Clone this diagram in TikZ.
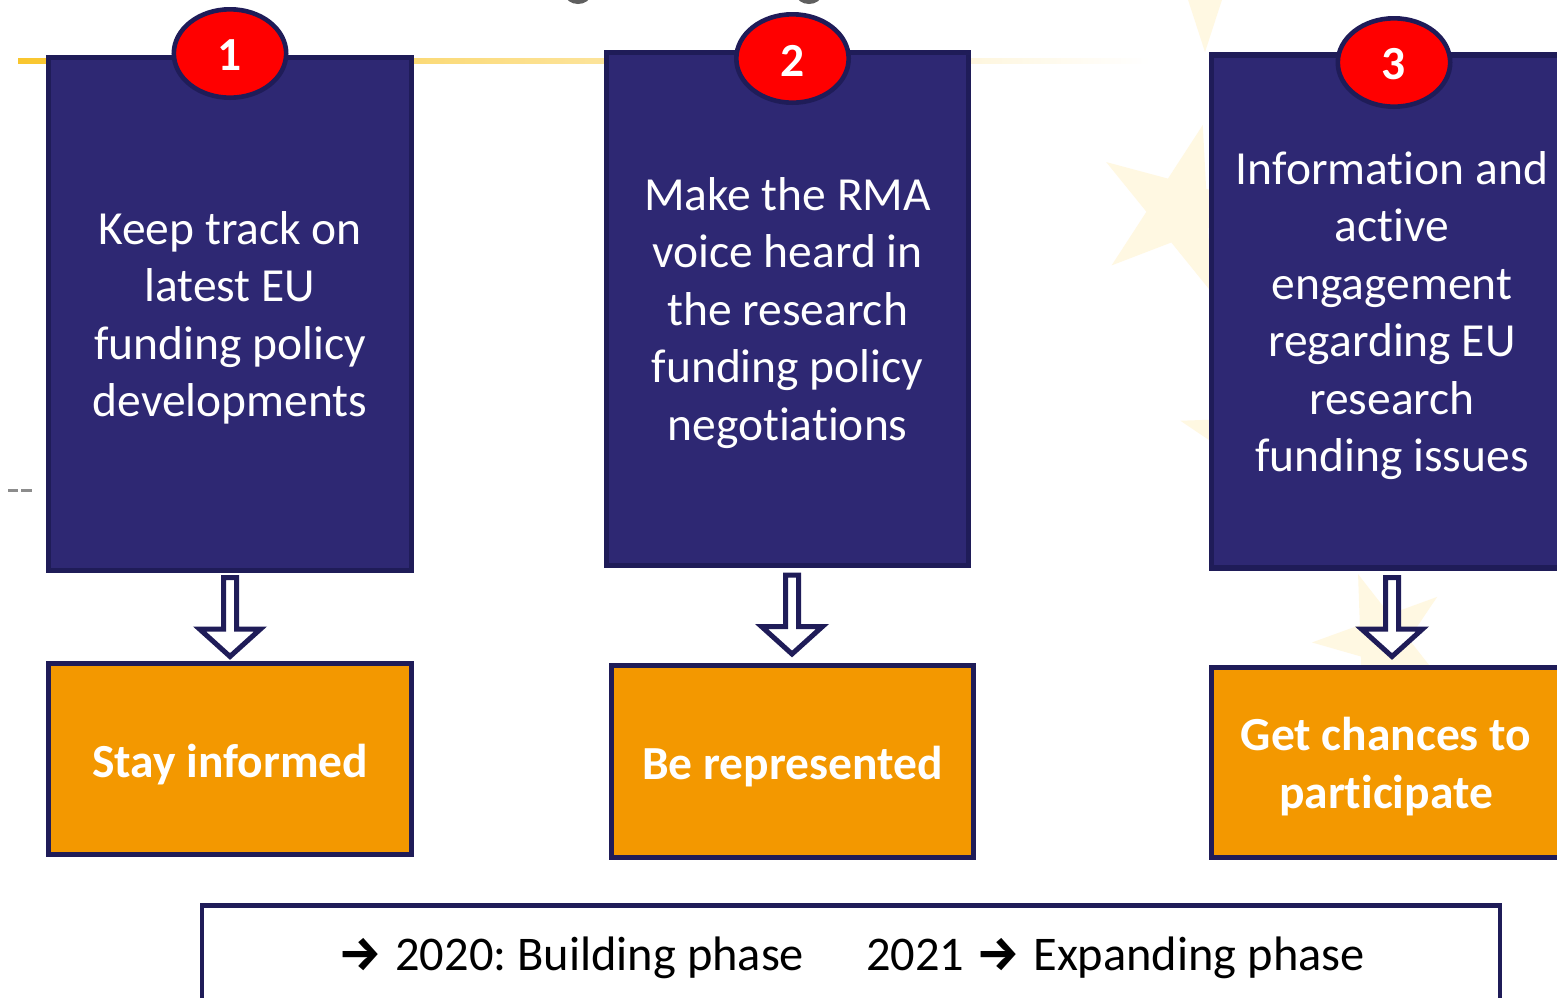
\documentclass[tikz,border=0pt]{standalone}
\usepackage{fontspec}
\usepackage{graphicx}
\setmainfont{Carlito}[Ligatures=CommonOff]
\newfontfamily\arrowfont{Fira Sans}
\newcommand\noti{t\kern0pt i}
\usetikzlibrary{shapes.geometric,calc}
\definecolor{navyfill}{RGB}{46,40,115}
\definecolor{navyline}{RGB}{31,28,88}
\definecolor{orangefill}{RGB}{243,152,0}
\definecolor{badgered}{RGB}{255,0,0}
\definecolor{gold}{RGB}{249,198,46}
\definecolor{starcol}{RGB}{255,248,226}
\definecolor{dashgrey}{RGB}{140,140,140}
\definecolor{titlegrey}{RGB}{95,95,95}
\newcommand\eustar[4]{\fill[starcol,shift={(#1,#2)}] (#4:#3) -- ({#4+36}:{0.382*#3}) -- ({#4+72}:#3) -- ({#4+108}:{0.382*#3}) -- ({#4+144}:#3) -- ({#4+180}:{0.382*#3}) -- ({#4+216}:#3) -- ({#4+252}:{0.382*#3}) -- ({#4+288}:#3) -- ({#4+324}:{0.382*#3}) -- cycle;}
\tikzset{
  bigtext/.style={font=\fontsize{23.75}{28.75}\selectfont},
  boldtext/.style={font=\bfseries\fontsize{23.75}{28.75}\selectfont},
  bluebox/.style={rectangle, draw=navyline, fill=navyfill, line width=2.6pt, inner sep=0pt, minimum width=181.5pt, minimum height=256.5pt},
  bluetext/.style={text=white, align=center, inner sep=0pt, bigtext},
  orangebox/.style={rectangle, draw=navyline, fill=orangefill, line width=2.6pt, inner sep=0pt, minimum width=181.5pt},
  orangetext/.style={text=white, align=center, inner sep=0pt, boldtext},
  badge/.style={ellipse, draw=navyline, fill=badgered, line width=2.3pt, minimum width=56.2pt, minimum height=44.2pt, inner sep=0pt},
  badgetext/.style={text=white, inner sep=0pt, boldtext},
  framebox/.style={rectangle, draw=navyline, fill=white, line width=2.2pt, inner sep=0pt, minimum width=649pt, minimum height=100pt},
  hollowarrow/.pic={\draw[line width=2.5pt, draw=navyline, fill=white, line join=miter] (-6.5,0) -- (-6.5,51.5) -- (-30.5,51.5) -- (0,79) -- (30.5,51.5) -- (6.5,51.5) -- (6.5,0) -- cycle;}
}
\begin{document}
\begin{tikzpicture}[x=0.5pt,y=-0.5pt]
\clip (0,0) rectangle (1557,997);
\fill[white] (0,0) rectangle (1557,997);
% faint background stars
\eustar{1180}{210}{88}{141}
\eustar{1205}{-30}{82}{90}
\eustar{1265}{445}{88}{196}
\eustar{1382}{640}{70}{-110}
% gold line
\shade[left color=gold, middle color=gold!35, right color=white] (18,58) rectangle (1150,63);
% title remnants at the top edge
\fill[titlegrey] (578,-6) ellipse [x radius=13, y radius=10];
\fill[titlegrey] (809,-6) ellipse [x radius=13, y radius=10];
% grey dashes
\draw[dashgrey, line width=1.5pt] (8,490.5) -- (18,490.5);
\draw[dashgrey, line width=1.5pt] (21,490.5) -- (32,490.5);
% blue boxes
\node[bluebox] (b1) at (230,314) {};
\node[bluebox, minimum width=181pt] (b2) at (787.5,309) {};
\node[bluebox] (b3) at (1393,311.5) {};
\node[bluetext] (t1) at ($(b1.center)+(0,4)$) {Keep track on\\latest EU\\funding policy\\developments};
\node[bluetext] (t2) at ($(b2.center)+(0,4)$) {Make the RMA\\voice heard in\\the research\\funding policy\\nego\noti ations};
\node[bluetext] (t3) at ($(b3.center)+(-1,4)$) {Information and\\active\\engagement\\regarding EU\\research\\funding issues};
% badges
\node[badge] (n1) at (230,53.5) {};
\node[badge] (n2) at (792.5,58.5) {};
\node[badge] (n3) at (1394,62.5) {};
\node[badgetext] (d1) at ($(n1.center)+(0,2)$) {1};
\node[badgetext] (d2) at ($(n2.center)+(0,2)$) {2};
\node[badgetext] (d3) at ($(n3.center)+(0,2)$) {3};
% orange boxes
\node[orangebox, minimum height=95.4pt] (o1) at (230,759) {};
\node[orangebox, minimum width=181pt, minimum height=95.9pt] (o2) at (792.5,761.5) {};
\node[orangebox, minimum height=94.9pt] (o3) at (1393,762.5) {};
\node[orangetext] (s1) at ($(o1.center)+(0,6)$) {Stay informed};
\node[orangetext] (s2) at ($(o2.center)+(0,5)$) {Be represented};
\node[orangetext] (s3) at ($(o3.center)+(-7,4)$) {Get chances to\\par\noti cipate};
% hollow arrows
\coordinate (a1) at (230,577.5);
\coordinate (a2) at (792,575);
\coordinate (a3) at (1392,577.5);
\pic at (a1) {hollowarrow};
\pic at (a2) {hollowarrow};
\pic at (a3) {hollowarrow};
% bottom frame
\node[framebox] (frame) at (851,1005.6) {};
\node[anchor=base west, inner sep=0pt, font=\fontsize{24.2}{29}\selectfont] (phases) at (338,970) {\frenchspacing\makebox[28.5pt][l]{\arrowfont\bfseries →}\makebox[235.5pt][l]{2020: Building phase}\makebox[55pt][l]{2021}\makebox[28.5pt][l]{\arrowfont\bfseries →}Expanding phase};
\end{tikzpicture}
\end{document}
